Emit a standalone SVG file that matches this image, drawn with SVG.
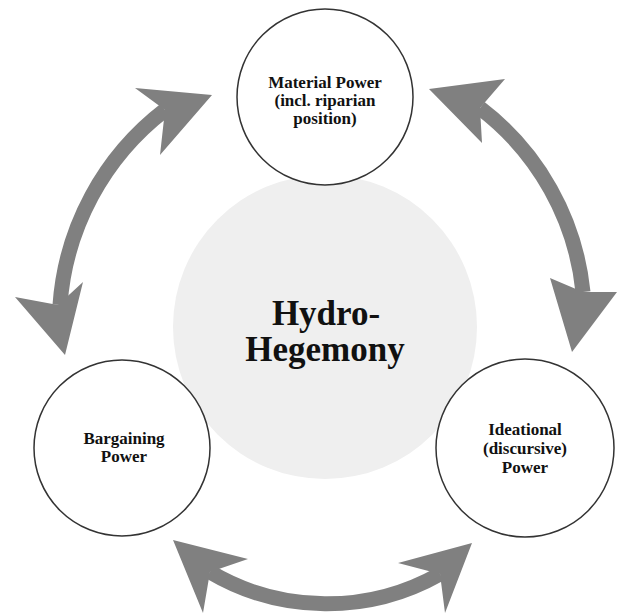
<svg xmlns="http://www.w3.org/2000/svg" width="618" height="615" viewBox="0 0 618 615">
<style>
.node{fill:#fff;stroke:#333;stroke-width:1.5}
.lbl{font-family:"Liberation Serif","Times New Roman",serif;font-weight:bold;font-size:17px;fill:#111;text-anchor:middle}
.big{font-size:35px}
.shaft{fill:none;stroke:#808080;stroke-width:15}
.head{fill:#808080}
</style>
<rect width="618" height="615" fill="#fff"/>
<g id="hub">
<circle cx="325" cy="327" r="152" fill="#efefef"/>
<text class="lbl big" x="326" y="325">Hydro-</text>
<text class="lbl big" x="325" y="361">Hegemony</text>
</g>
<g id="connectors">
<path class="shaft" d="M165,110 A270,270 0 0 0 60,305"/>
<polygon class="head" points="212,95 135,88 165,110 160,155"/>
<polygon class="head" points="65,355 15,297 58,305 83,282"/>
<path class="shaft" d="M480,108 A265,265 0 0 1 583,292"/>
<polygon class="head" points="429,89 505,79 480,108 482,143"/>
<polygon class="head" points="572,352 550,278 583,292 617,292"/>
<path class="shaft" d="M210,572 A230,230 0 0 0 440,574"/>
<polygon class="head" points="173,540 248,559 210,572 203,613"/>
<polygon class="head" points="472,543 398,563 440,574 445,613"/>
</g>
<g id="material">
<circle class="node" cx="325" cy="97" r="88"/>
<text class="lbl" x="325" y="88">Material Power</text>
<text class="lbl" x="325" y="106">(incl. riparian</text>
<text class="lbl" x="325" y="124">position)</text>
</g>
<g id="bargaining">
<circle class="node" cx="122" cy="448" r="88"/>
<text class="lbl" x="124" y="444">Bargaining</text>
<text class="lbl" x="124" y="462">Power</text>
</g>
<g id="ideational">
<circle class="node" cx="525" cy="448" r="89"/>
<text class="lbl" x="525" y="435">Ideational</text>
<text class="lbl" x="525" y="454">(discursive)</text>
<text class="lbl" x="525" y="473">Power</text>
</g>
</svg>
